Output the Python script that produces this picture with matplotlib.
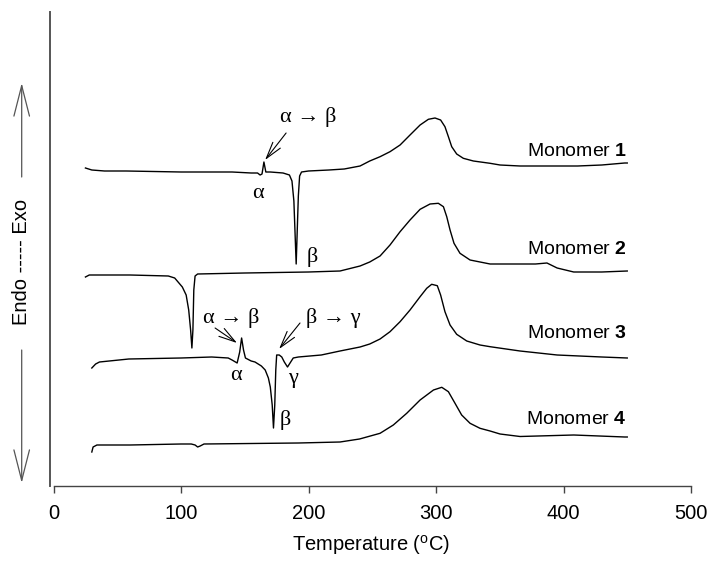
import matplotlib
matplotlib.use("Agg")
import matplotlib.pyplot as plt

plt.rcParams['font.family'] = ['Liberation Sans', 'DejaVu Sans']
plt.rcParams['mathtext.fontset'] = 'custom'
plt.rcParams['mathtext.rm'] = 'Liberation Sans'
plt.rcParams['mathtext.bf'] = 'Liberation Sans:bold'

# ---------------- data (temperature in C, heat flow in arbitrary offset units; up = exo) ----------------
t1 = [25, 30, 40, 57, 100, 140, 155, 160, 162, 163.5, 165, 166.5, 170, 180, 185, 187, 188.5, 189.5,
      190.3, 191, 192, 193, 194.5, 200, 216, 228, 240.4, 248, 256.1, 263.9, 271.8, 279.6, 287.5,
      294, 299.2, 303.6, 307, 309.7, 312.3, 316.2, 321.4, 329.3, 342.4, 350.2, 365.9, 395, 411,
      430, 448, 450]
s1 = [318, 316, 315, 315, 314, 314, 313, 313, 311, 312, 324, 314, 314, 313, 311, 305, 285, 250,
      222, 250, 290, 310, 314, 315, 316, 317, 320, 325, 329.3, 334.3, 341, 351, 361,
      366.7, 368, 366, 359.3, 349.3, 339.3, 332, 327.7, 325, 322.7, 321, 320, 320, 320,
      321, 323, 323]

t2 = [25, 28, 60, 90, 95, 101, 104, 106, 107.5, 108.5, 109.3, 110, 111, 113, 150, 200, 224.7,
      240.4, 248, 256.1, 263.9, 271.8, 279.6, 287.5, 295.3, 301.8, 305.8, 308.4, 311, 314.1,
      318.8, 326.7, 342.4, 359, 378, 387, 395, 408, 430, 450]
s2 = [209, 211, 211, 210, 208, 199, 191, 176, 156, 138, 156, 196, 210, 212, 213, 214, 215,
      220, 224, 230, 241, 254.3, 266, 276.7, 282, 282.7, 279.3, 269.3, 256, 242.7,
      232.7, 226, 222, 222, 222, 223, 218, 214, 214, 215]

t3 = [30, 33, 36, 59, 100, 124, 137, 140, 144, 146, 147.5, 149, 150.5, 155, 158, 163, 166, 168.5,
      170, 171.5, 172.5, 173.5, 174.3, 175, 177, 179, 181, 183.5, 185.5, 188, 192, 210, 224.7,
      240.4, 248, 256.1, 263.9, 271.8, 279.6, 287.5, 292.7, 296.6, 301, 303.6, 307, 311, 316.2,
      324.1, 334.5, 342.4, 365.9, 395, 430, 450]
s3 = [118, 122, 124, 127, 128, 129, 128, 126, 123, 134, 148, 136, 128, 125, 124, 120, 116, 108,
      99, 81, 58, 81, 116, 131, 131, 129, 124, 119, 123, 128, 129, 131, 135,
      139, 142, 147, 154.3, 164.3, 176, 189.3, 197.7, 201.7, 200.3, 191, 174.3, 161, 151.7,
      145, 141, 139.3, 135, 131, 129, 128]

t4 = [30, 31, 34, 60, 100, 108, 111, 113, 115, 118, 192, 224.7, 240, 256.1, 266.5, 277, 287.5,
      298, 304.5, 309.7, 314.9, 320.1, 326.7, 334.5, 342.4, 350.2, 365.9, 408, 448, 450]
s4 = [34, 39, 41, 41, 42, 42, 41, 39, 40, 42, 43, 44, 47, 52.7, 61, 72.7, 86,
      96, 98.7, 94.3, 82.7, 71, 62.7, 57.7, 55, 52, 49.5, 51, 49, 49]

curve_t = [t1, t2, t3, t4]
curve_s = [s1, s2, s3, s4]
curve_names = ["1", "2", "3", "4"]

# ---------------- figure ----------------
fig = plt.figure(figsize=(7.1, 5.68), dpi=100)
ax = fig.add_axes([50 / 710, 1 - 486 / 568, 641 / 710, 474 / 568])
ax.set_xlim(-2.8, 500)
ax.set_ylim(0, 474)

for t, s in zip(curve_t, curve_s):
    ax.plot(t, s, color='black', lw=1.0, solid_joinstyle='round')

# monomer labels
label_pos = [(449.8, 330), (449.8, 232), (449.8, 147.7), (449.8, 62)]
for name, (x, y) in zip(curve_names, label_pos):
    ax.text(x, y, r"Monomer $\mathbf{%s}$" % name, ha='right', va='baseline', fontsize=14)

# greek annotations
gfam = ['Liberation Serif', 'DejaVu Serif']
gsize = 16
arrow_kw = dict(arrowstyle='->, head_length=0.6, head_width=0.17', lw=0.8, color='black',
                mutation_scale=20, shrinkA=0, shrinkB=0)

ax.annotate("", xy=(165.9, 326), xytext=(182.4, 353), arrowprops=arrow_kw)
ax.text(199.6, 369, "α → β", ha='center', va='center', fontsize=gsize, family=gfam)
ax.text(160.4, 293, "α", ha='center', va='center', fontsize=gsize, family=gfam)
ax.text(202.7, 229, "β", ha='center', va='center', fontsize=gsize, family=gfam)

ax.annotate("", xy=(143.9, 143), xytext=(126.7, 158), arrowprops=arrow_kw)
ax.text(139.2, 168, "α → β", ha='center', va='center', fontsize=gsize, family=gfam)
ax.text(143.1, 111, "α", ha='center', va='center', fontsize=gsize, family=gfam)
ax.text(181.6, 66, "β", ha='center', va='center', fontsize=gsize, family=gfam)
ax.annotate("", xy=(176.9, 137), xytext=(193.3, 163), arrowprops=arrow_kw)
ax.text(219.2, 168, "β → γ", ha='center', va='center', fontsize=gsize, family=gfam)
ax.text(187.8, 108, "γ", ha='center', va='center', fontsize=gsize, family=gfam)

# axes styling
for side in ['top', 'right']:
    ax.spines[side].set_visible(False)
ax.spines['left'].set_color('#555555')
ax.spines['left'].set_linewidth(1.4)
ax.spines['bottom'].set_color('#444444')
ax.spines['bottom'].set_linewidth(1.0)
ax.spines['bottom'].set_bounds(0, 500)
ax.set_yticks([])
ax.set_xticks([0, 100, 200, 300, 400, 500])
ax.tick_params(axis='x', direction='out', length=5, width=1, color='#444444',
               labelsize=14.5, pad=8)
ax.set_xlabel(r"Temperature ($^{\mathrm{o}}$C)", fontsize=14.5, labelpad=7)

# left Endo / Exo indicator
fig.text(22 / 710, 1 - 262 / 568, "Endo ----- Exo", rotation=90, ha='center', va='center',
         fontsize=14.5)
side_arrow = dict(arrowstyle='->, head_length=1.1, head_width=0.28', lw=0.9, color='#555555',
                  mutation_scale=20, shrinkA=0, shrinkB=0)
ax.annotate("", xy=(21.7, 568 - 83), xytext=(21.7, 568 - 177), xycoords='figure pixels',
            textcoords='figure pixels', arrowprops=side_arrow, annotation_clip=False)
ax.annotate("", xy=(21.7, 568 - 483), xytext=(21.7, 568 - 350), xycoords='figure pixels',
            textcoords='figure pixels', arrowprops=side_arrow, annotation_clip=False)

fig.savefig("out.png", dpi=100)
